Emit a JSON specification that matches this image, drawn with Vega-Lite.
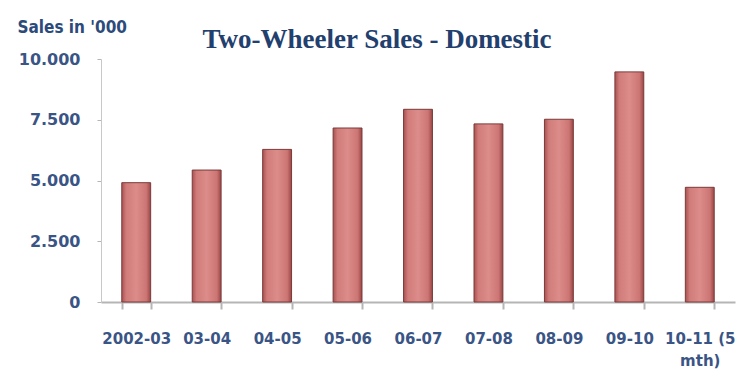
{
  "$schema": "https://vega.github.io/schema/vega-lite/v6.json",
  "autosize": {"type": "none"},
  "width": 634,
  "height": 243,
  "padding": {"left": 101, "top": 59, "right": 4, "bottom": 86},
  "background": "#ffffff",
  "title": {
    "text": "Two-Wheeler Sales - Domestic",
    "font": "Liberation Serif",
    "fontSize": 27,
    "fontWeight": "bold",
    "color": "#22406e",
    "anchor": "middle",
    "frame": "group",
    "dx": -41,
    "dy": 66,
    "baseline": "alphabetic",
    "offset": 9
  },
  "data": {
    "values": [
      {"year": "2002-03", "sales": 4910},
      {"year": "03-04", "sales": 5430},
      {"year": "04-05", "sales": 6280},
      {"year": "05-06", "sales": 7160},
      {"year": "06-07", "sales": 7930},
      {"year": "07-08", "sales": 7330},
      {"year": "08-09", "sales": 7520},
      {"year": "09-10", "sales": 9470},
      {"year": "10-11 (5 mth)", "sales": 4720}
    ]
  },
  "mark": {
    "type": "bar",
    "stroke": "#7a3a3a",
    "strokeWidth": 1,
    "fill": {
      "gradient": "linear",
      "x1": 0, "y1": 0, "x2": 1, "y2": 0,
      "stops": [
        {"offset": 0, "color": "#a85252"},
        {"offset": 0.15, "color": "#d07c7a"},
        {"offset": 0.5, "color": "#dc8c8a"},
        {"offset": 0.85, "color": "#cc7674"},
        {"offset": 1, "color": "#9a4646"}
      ]
    }
  },
  "encoding": {
    "x": {
      "field": "year",
      "type": "nominal",
      "sort": null,
      "scale": {"paddingInner": 0.59, "paddingOuter": 0.295},
      "axis": {
        "title": null,
        "labelAngle": 0,
        "labelFont": "DejaVu Sans",
        "labelFontWeight": "bold",
        "labelFontSize": 15,
        "labelLineHeight": 22,
        "labelColor": "#3a5585",
        "labelPadding": 22,
        "labelExpr": "datum.label == '10-11 (5 mth)' ? ['10-11 (5', 'mth)'] : datum.label",
        "domainColor": "#b5b5b5",
        "domainWidth": 2,
        "tickColor": "#b5b5b5",
        "tickWidth": 2,
        "tickSize": 7,
        "tickBand": "extent"
      }
    },
    "y": {
      "field": "sales",
      "type": "quantitative",
      "scale": {"domain": [0, 10000]},
      "axis": {
        "values": [0, 2500, 5000, 7500, 10000],
        "labelExpr": "replace(format(datum.value, ','), ',', '.')",
        "labelFont": "DejaVu Sans",
        "labelFontWeight": "bold",
        "labelFontSize": 16,
        "labelColor": "#3a5585",
        "labelPadding": 17,
        "grid": false,
        "domainColor": "#c8c8c8",
        "tickColor": "#b5b5b5",
        "tickSize": 4,
        "title": "Sales in '000",
        "titleAngle": 0,
        "titleAlign": "left",
        "titleBaseline": "alphabetic",
        "titleX": -84,
        "titleY": -27,
        "titleFont": "DejaVu Sans Condensed",
        "titleFontSize": 17,
        "titleFontWeight": "bold",
        "titleColor": "#2c4a7a"
      }
    }
  },
  "config": {
    "view": {"stroke": null}
  }
}
